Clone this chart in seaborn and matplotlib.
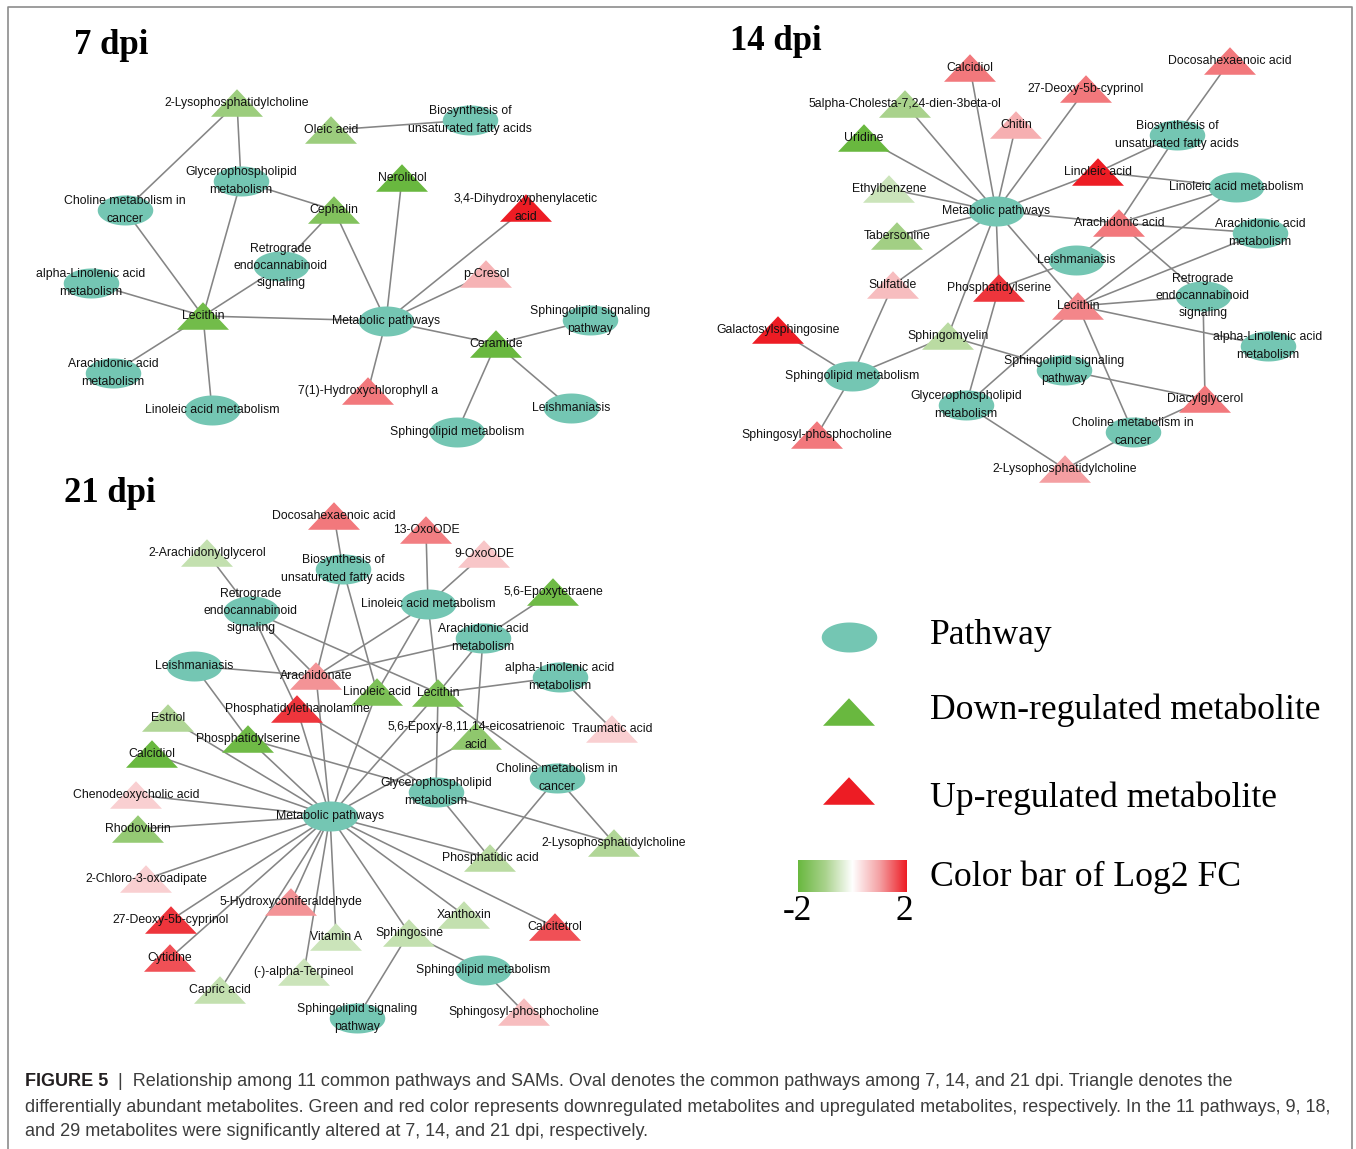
import numpy as np
import pandas as pd
import matplotlib
matplotlib.use("Agg")
import matplotlib.pyplot as plt
from matplotlib.path import Path
from matplotlib.colors import LinearSegmentedColormap
import seaborn as sns

# ---------------------------------------------------------------- data
# 7 dpi network
pathways_7 = ["Biosynthesis of unsaturated fatty acids", "Glycerophospholipid metabolism",
              "Choline metabolism in cancer", "Retrograde endocannabinoid signaling",
              "alpha-Linolenic acid metabolism", "Metabolic pathways",
              "Sphingolipid signaling pathway", "Arachidonic acid metabolism",
              "Linoleic acid metabolism", "Leishmaniasis", "Sphingolipid metabolism"]
metabolites_7 = ["2-Lysophosphatidylcholine", "Oleic acid", "Nerolidol", "Cephalin",
                 "3,4-Dihydroxyphenylacetic acid", "p-Cresol", "Lecithin", "Ceramide",
                 "7(1)-Hydroxychlorophyll a"]
log2fc_7 = [-1.2, -1.2, -2.0, -1.6, 2.0, 0.8, -1.85, -2.0, 1.3]
edges_7 = [
    ("Oleic acid", "Biosynthesis of unsaturated fatty acids"),
    ("2-Lysophosphatidylcholine", "Choline metabolism in cancer"),
    ("2-Lysophosphatidylcholine", "Glycerophospholipid metabolism"),
    ("Cephalin", "Glycerophospholipid metabolism"),
    ("Lecithin", "Glycerophospholipid metabolism"),
    ("Lecithin", "Choline metabolism in cancer"),
    ("Cephalin", "Retrograde endocannabinoid signaling"),
    ("Lecithin", "Retrograde endocannabinoid signaling"),
    ("Cephalin", "Metabolic pathways"),
    ("Lecithin", "alpha-Linolenic acid metabolism"),
    ("Lecithin", "Metabolic pathways"),
    ("Lecithin", "Arachidonic acid metabolism"),
    ("Lecithin", "Linoleic acid metabolism"),
    ("Nerolidol", "Metabolic pathways"),
    ("3,4-Dihydroxyphenylacetic acid", "Metabolic pathways"),
    ("p-Cresol", "Metabolic pathways"),
    ("Ceramide", "Metabolic pathways"),
    ("7(1)-Hydroxychlorophyll a", "Metabolic pathways"),
    ("Ceramide", "Sphingolipid signaling pathway"),
    ("Ceramide", "Leishmaniasis"),
    ("Ceramide", "Sphingolipid metabolism"),
]

# 14 dpi network
pathways_14 = list(pathways_7)
metabolites_14 = ["Calcidiol", "Docosahexaenoic acid", "27-Deoxy-5b-cyprinol",
                  "5alpha-Cholesta-7,24-dien-3beta-ol", "Chitin", "Uridine", "Linoleic acid",
                  "Ethylbenzene", "Arachidonic acid", "Tabersonine", "Sulfatide",
                  "Phosphatidylserine", "Lecithin", "Galactosylsphingosine", "Sphingomyelin",
                  "Diacylglycerol", "Sphingosyl-phosphocholine", "2-Lysophosphatidylcholine"]
log2fc_14 = [1.3, 1.3, 1.3, -1.0, 0.85, -2.0, 2.0, -0.6, 1.3, -1.1, 0.7,
             1.8, 1.2, 2.0, -0.8, 1.3, 1.3, 1.0]
edges_14 = [
    ("Docosahexaenoic acid", "Biosynthesis of unsaturated fatty acids"),
    ("Arachidonic acid", "Biosynthesis of unsaturated fatty acids"),
    ("Linoleic acid", "Biosynthesis of unsaturated fatty acids"),
    ("Linoleic acid", "Linoleic acid metabolism"),
    ("Linoleic acid", "Metabolic pathways"),
    ("Calcidiol", "Metabolic pathways"),
    ("5alpha-Cholesta-7,24-dien-3beta-ol", "Metabolic pathways"),
    ("Uridine", "Metabolic pathways"),
    ("Chitin", "Metabolic pathways"),
    ("27-Deoxy-5b-cyprinol", "Metabolic pathways"),
    ("Ethylbenzene", "Metabolic pathways"),
    ("Tabersonine", "Metabolic pathways"),
    ("Sulfatide", "Metabolic pathways"),
    ("Phosphatidylserine", "Metabolic pathways"),
    ("Sphingomyelin", "Metabolic pathways"),
    ("Lecithin", "Metabolic pathways"),
    ("Arachidonic acid", "Metabolic pathways"),
    ("Arachidonic acid", "Linoleic acid metabolism"),
    ("Arachidonic acid", "Arachidonic acid metabolism"),
    ("Arachidonic acid", "Leishmaniasis"),
    ("Arachidonic acid", "Retrograde endocannabinoid signaling"),
    ("Phosphatidylserine", "Leishmaniasis"),
    ("Lecithin", "Linoleic acid metabolism"),
    ("Lecithin", "Arachidonic acid metabolism"),
    ("Lecithin", "Retrograde endocannabinoid signaling"),
    ("Lecithin", "alpha-Linolenic acid metabolism"),
    ("Lecithin", "Glycerophospholipid metabolism"),
    ("Lecithin", "Choline metabolism in cancer"),
    ("Diacylglycerol", "Retrograde endocannabinoid signaling"),
    ("Diacylglycerol", "Sphingolipid signaling pathway"),
    ("Diacylglycerol", "Choline metabolism in cancer"),
    ("Sphingomyelin", "Sphingolipid signaling pathway"),
    ("Sphingomyelin", "Sphingolipid metabolism"),
    ("Sulfatide", "Sphingolipid metabolism"),
    ("Galactosylsphingosine", "Sphingolipid metabolism"),
    ("Sphingosyl-phosphocholine", "Sphingolipid metabolism"),
    ("Phosphatidylserine", "Glycerophospholipid metabolism"),
    ("2-Lysophosphatidylcholine", "Glycerophospholipid metabolism"),
    ("2-Lysophosphatidylcholine", "Choline metabolism in cancer"),
]

# 21 dpi network
pathways_21 = list(pathways_7)
metabolites_21 = ["Docosahexaenoic acid", "13-OxoODE", "2-Arachidonylglycerol", "9-OxoODE",
                  "5,6-Epoxytetraene", "Arachidonate", "Linoleic acid", "Lecithin",
                  "Phosphatidylethanolamine", "Estriol", "5,6-Epoxy-8,11,14-eicosatrienoic acid",
                  "Traumatic acid", "Phosphatidylserine", "Calcidiol", "Chenodeoxycholic acid",
                  "Rhodovibrin", "2-Lysophosphatidylcholine", "Phosphatidic acid",
                  "2-Chloro-3-oxoadipate", "5-Hydroxyconiferaldehyde", "Xanthoxin",
                  "27-Deoxy-5b-cyprinol", "Calcitetrol", "Sphingosine", "Vitamin A", "Cytidine",
                  "(-)-alpha-Terpineol", "Capric acid", "Sphingosyl-phosphocholine"]
log2fc_21 = [1.3, 1.25, -0.7, 0.6, -1.9, 1.1, -1.7, -1.7, 1.8, -0.9, -1.4, 0.5, -1.9, -2.0,
             0.5, -1.3, -0.9, -0.8, 0.5, 1.1, -0.7, 1.8, 1.6, -0.7, -0.6, 1.6, -0.6, -0.7, 0.7]
edges_21 = [
    ("Docosahexaenoic acid", "Biosynthesis of unsaturated fatty acids"),
    ("Linoleic acid", "Biosynthesis of unsaturated fatty acids"),
    ("Arachidonate", "Biosynthesis of unsaturated fatty acids"),
    ("13-OxoODE", "Linoleic acid metabolism"),
    ("9-OxoODE", "Linoleic acid metabolism"),
    ("2-Arachidonylglycerol", "Retrograde endocannabinoid signaling"),
    ("Arachidonate", "Retrograde endocannabinoid signaling"),
    ("Lecithin", "Retrograde endocannabinoid signaling"),
    ("Phosphatidylethanolamine", "Retrograde endocannabinoid signaling"),
    ("Arachidonate", "Linoleic acid metabolism"),
    ("Linoleic acid", "Linoleic acid metabolism"),
    ("Lecithin", "Linoleic acid metabolism"),
    ("5,6-Epoxytetraene", "Arachidonic acid metabolism"),
    ("Arachidonate", "Arachidonic acid metabolism"),
    ("Lecithin", "Arachidonic acid metabolism"),
    ("5,6-Epoxy-8,11,14-eicosatrienoic acid", "Arachidonic acid metabolism"),
    ("Arachidonate", "Leishmaniasis"),
    ("Phosphatidylserine", "Leishmaniasis"),
    ("Lecithin", "alpha-Linolenic acid metabolism"),
    ("Traumatic acid", "alpha-Linolenic acid metabolism"),
    ("Lecithin", "Glycerophospholipid metabolism"),
    ("Lecithin", "Choline metabolism in cancer"),
    ("Lecithin", "Metabolic pathways"),
    ("Arachidonate", "Metabolic pathways"),
    ("Linoleic acid", "Metabolic pathways"),
    ("Phosphatidylethanolamine", "Glycerophospholipid metabolism"),
    ("Phosphatidylethanolamine", "Metabolic pathways"),
    ("Phosphatidylserine", "Glycerophospholipid metabolism"),
    ("Phosphatidylserine", "Metabolic pathways"),
    ("Estriol", "Metabolic pathways"),
    ("Calcidiol", "Metabolic pathways"),
    ("Chenodeoxycholic acid", "Metabolic pathways"),
    ("Rhodovibrin", "Metabolic pathways"),
    ("2-Chloro-3-oxoadipate", "Metabolic pathways"),
    ("27-Deoxy-5b-cyprinol", "Metabolic pathways"),
    ("Cytidine", "Metabolic pathways"),
    ("Capric acid", "Metabolic pathways"),
    ("5-Hydroxyconiferaldehyde", "Metabolic pathways"),
    ("(-)-alpha-Terpineol", "Metabolic pathways"),
    ("Vitamin A", "Metabolic pathways"),
    ("Sphingosine", "Metabolic pathways"),
    ("Xanthoxin", "Metabolic pathways"),
    ("Calcitetrol", "Metabolic pathways"),
    ("Phosphatidic acid", "Metabolic pathways"),
    ("5,6-Epoxy-8,11,14-eicosatrienoic acid", "Metabolic pathways"),
    ("Phosphatidic acid", "Glycerophospholipid metabolism"),
    ("2-Lysophosphatidylcholine", "Glycerophospholipid metabolism"),
    ("Phosphatidic acid", "Choline metabolism in cancer"),
    ("2-Lysophosphatidylcholine", "Choline metabolism in cancer"),
    ("Sphingosine", "Sphingolipid metabolism"),
    ("Sphingosine", "Sphingolipid signaling pathway"),
    ("Sphingosyl-phosphocholine", "Sphingolipid metabolism"),
]

legend_labels = ["Pathway", "Down-regulated metabolite", "Up-regulated metabolite",
                 "Color bar of Log2 FC"]
fc_limits = [-2, 2]

caption_head = "FIGURE 5"
caption_lines = [
    "|  Relationship among 11 common pathways and SAMs. Oval denotes the common pathways among 7, 14, and 21 dpi. Triangle denotes the",
    "differentially abundant metabolites. Green and red color represents downregulated metabolites and upregulated metabolites, respectively. In the 11 pathways, 9, 18,",
    "and 29 metabolites were significantly altered at 7, 14, and 21 dpi, respectively.",
]

# ---------------------------------------------------------------- layout (pixel space)
WRAP = {
    "Biosynthesis of unsaturated fatty acids": "Biosynthesis of\nunsaturated fatty acids",
    "Glycerophospholipid metabolism": "Glycerophospholipid\nmetabolism",
    "Choline metabolism in cancer": "Choline metabolism in\ncancer",
    "Retrograde endocannabinoid signaling": "Retrograde\nendocannabinoid\nsignaling",
    "alpha-Linolenic acid metabolism": "alpha-Linolenic acid\nmetabolism",
    "Sphingolipid signaling pathway": "Sphingolipid signaling\npathway",
    "Arachidonic acid metabolism": "Arachidonic acid\nmetabolism",
    "3,4-Dihydroxyphenylacetic acid": "3,4-Dihydroxyphenylacetic\nacid",
    "5,6-Epoxy-8,11,14-eicosatrienoic acid": "5,6-Epoxy-8,11,14-eicosatrienoic\nacid",
}

layout_7 = {
    "2-Lysophosphatidylcholine": (237, 103), "Oleic acid": (331, 130),
    "Biosynthesis of unsaturated fatty acids": (470, 120),
    "Glycerophospholipid metabolism": (241, 181), "Nerolidol": (402, 178),
    "Choline metabolism in cancer": (125, 210), "Cephalin": (334, 210),
    "3,4-Dihydroxyphenylacetic acid": (526, 208),
    "Retrograde endocannabinoid signaling": (281, 266),
    "alpha-Linolenic acid metabolism": (91, 283), "p-Cresol": (486, 274),
    "Lecithin": (203, 316), "Metabolic pathways": (386, 321),
    "Sphingolipid signaling pathway": (590, 320), "Ceramide": (496, 344),
    "Arachidonic acid metabolism": (113, 373), "7(1)-Hydroxychlorophyll a": (368, 391),
    "Linoleic acid metabolism": (212, 410), "Leishmaniasis": (571, 408),
    "Sphingolipid metabolism": (457, 432),
}
layout_14 = {
    "Calcidiol": (970, 68), "Docosahexaenoic acid": (1230, 61),
    "27-Deoxy-5b-cyprinol": (1086, 89), "5alpha-Cholesta-7,24-dien-3beta-ol": (905, 104),
    "Chitin": (1016, 125), "Uridine": (864, 138),
    "Biosynthesis of unsaturated fatty acids": (1177, 135), "Linoleic acid": (1098, 172),
    "Linoleic acid metabolism": (1236, 187), "Ethylbenzene": (889, 189),
    "Metabolic pathways": (996, 211), "Arachidonic acid": (1119, 223),
    "Arachidonic acid metabolism": (1260, 233), "Tabersonine": (897, 236),
    "Leishmaniasis": (1076, 260), "Sulfatide": (893, 285), "Phosphatidylserine": (999, 288),
    "Retrograde endocannabinoid signaling": (1203, 296), "Lecithin": (1078, 306),
    "Galactosylsphingosine": (778, 330), "Sphingomyelin": (948, 336),
    "alpha-Linolenic acid metabolism": (1268, 346),
    "Sphingolipid signaling pathway": (1064, 370), "Sphingolipid metabolism": (852, 376),
    "Glycerophospholipid metabolism": (966, 405), "Diacylglycerol": (1205, 399),
    "Choline metabolism in cancer": (1133, 432), "Sphingosyl-phosphocholine": (817, 435),
    "2-Lysophosphatidylcholine": (1065, 469),
}
layout_21 = {
    "Docosahexaenoic acid": (334, 516), "13-OxoODE": (426, 530),
    "2-Arachidonylglycerol": (207, 553), "9-OxoODE": (484, 554),
    "Biosynthesis of unsaturated fatty acids": (343, 569), "5,6-Epoxytetraene": (553, 592),
    "Retrograde endocannabinoid signaling": (251, 611), "Linoleic acid metabolism": (428, 604),
    "Arachidonic acid metabolism": (483, 638), "Leishmaniasis": (194, 666),
    "Arachidonate": (316, 676), "alpha-Linolenic acid metabolism": (560, 677),
    "Linoleic acid": (377, 692), "Lecithin": (438, 693),
    "Phosphatidylethanolamine": (297, 709), "Estriol": (168, 718),
    "5,6-Epoxy-8,11,14-eicosatrienoic acid": (476, 736), "Traumatic acid": (612, 729),
    "Phosphatidylserine": (248, 739), "Calcidiol": (152, 754),
    "Choline metabolism in cancer": (557, 778), "Glycerophospholipid metabolism": (436, 792),
    "Chenodeoxycholic acid": (136, 795), "Metabolic pathways": (330, 816),
    "Rhodovibrin": (138, 829), "2-Lysophosphatidylcholine": (614, 843),
    "Phosphatidic acid": (490, 858), "2-Chloro-3-oxoadipate": (146, 879),
    "5-Hydroxyconiferaldehyde": (291, 902), "Xanthoxin": (464, 915),
    "27-Deoxy-5b-cyprinol": (171, 920), "Calcitetrol": (555, 927),
    "Sphingosine": (409, 933), "Vitamin A": (336, 937), "Cytidine": (170, 958),
    "(-)-alpha-Terpineol": (304, 972), "Sphingolipid metabolism": (483, 970),
    "Capric acid": (220, 990), "Sphingolipid signaling pathway": (357, 1018),
    "Sphingosyl-phosphocholine": (524, 1012),
}

# ---------------------------------------------------------------- styling
W, H = 1356, 1149
TEAL = "#74c6b3"
EDGE = "#858585"
fc_cmap = LinearSegmentedColormap.from_list(
    "fc", ["#69b83f", "#a9d28c", "#ffffff", "#f4a1a4", "#ed1c24"])

theta = np.linspace(0, 2 * np.pi, 73)
ellipse_marker = Path(np.column_stack([np.cos(theta), 0.54 * np.sin(theta)]), closed=True)
triangle_marker = Path([(-1, -0.53), (1, -0.53), (0, 0.53), (-1, -0.53)], closed=True)
ELLIPSE_S = 1600
TRIANGLE_S = 1400

sns.set_theme(style="white")
plt.rcParams["font.family"] = ["Liberation Sans", "DejaVu Sans"]

fig = plt.figure(figsize=(W / 100, H / 100), dpi=100)
ax = fig.add_axes([0, 0, 1, 1])


def draw_network(pathways, metabolites, fcs, edges, layout):
    # edges
    rows = []
    for i, (a, b) in enumerate(edges):
        for n in (a, b):
            rows.append({"edge": i, "x": layout[n][0], "y": layout[n][1]})
    edf = pd.DataFrame(rows)
    sns.lineplot(data=edf, x="x", y="y", units="edge", estimator=None, sort=False,
                 color=EDGE, linewidth=1.15, zorder=1, ax=ax, legend=False)
    # pathway ovals
    pdf = pd.DataFrame({"name": pathways,
                        "x": [layout[p][0] for p in pathways],
                        "y": [layout[p][1] for p in pathways]})
    sns.scatterplot(data=pdf, x="x", y="y", color=TEAL, marker=ellipse_marker,
                    s=ELLIPSE_S, linewidth=0, zorder=2, ax=ax, legend=False)
    # metabolite triangles coloured by log2 fold change
    mdf = pd.DataFrame({"name": metabolites, "fc": fcs,
                        "x": [layout[m][0] for m in metabolites],
                        "y": [layout[m][1] for m in metabolites]})
    sns.scatterplot(data=mdf, x="x", y="y", hue="fc", palette=fc_cmap,
                    hue_norm=tuple(fc_limits), marker=triangle_marker, s=TRIANGLE_S,
                    linewidth=0, zorder=2, ax=ax, legend=False)
    # labels
    for n in list(pathways) + list(metabolites):
        x, y = layout[n]
        ax.text(x, y, WRAP.get(n, n), ha="center", va="center", fontsize=8.8,
                color="#111111", linespacing=1.6, zorder=3)


draw_network(pathways_7, metabolites_7, log2fc_7, edges_7, layout_7)
draw_network(pathways_14, metabolites_14, log2fc_14, edges_14, layout_14)
draw_network(pathways_21, metabolites_21, log2fc_21, edges_21, layout_21)

# panel titles
serif = ["Liberation Serif", "DejaVu Serif"]
for txt, (x, y) in [("7 dpi", (111, 45)), ("14 dpi", (776, 42)), ("21 dpi", (110, 494))]:
    ax.text(x, y, txt, ha="center", va="center", fontsize=25, fontweight="bold",
            family=serif, color="black")

# legend
leg = pd.DataFrame({"x": [849, 849, 849], "y": [637, 712, 791],
                    "fc": [np.nan, fc_limits[0], fc_limits[1]]})
sns.scatterplot(data=leg.iloc[:1], x="x", y="y", color=TEAL, marker=ellipse_marker,
                s=ELLIPSE_S, linewidth=0, ax=ax, legend=False, zorder=2)
sns.scatterplot(data=leg.iloc[1:], x="x", y="y", hue="fc", palette=fc_cmap,
                hue_norm=tuple(fc_limits), marker=triangle_marker, s=TRIANGLE_S,
                linewidth=0, ax=ax, legend=False, zorder=2)
gradient = np.linspace(fc_limits[0], fc_limits[1], 256).reshape(1, -1)
ax.imshow(gradient, cmap=fc_cmap, vmin=fc_limits[0], vmax=fc_limits[1],
          extent=(798, 907, 892, 860), aspect="auto", zorder=2)
for txt, y in zip(legend_labels, [635, 710, 798, 877]):
    ax.text(930, y, txt, ha="left", va="center", fontsize=25.7, family=serif, color="black")
ax.text(797, 912, str(fc_limits[0]), ha="center", va="center", fontsize=25.5,
        family=serif, color="black")
ax.text(904, 912, str(fc_limits[1]), ha="center", va="center", fontsize=25.5,
        family=serif, color="black")

# frame
ax.plot([8, 8, 1352, 1352], [H + 5, 7, 7, H + 5], color="#8c8c8c", lw=1.2,
        zorder=0, clip_on=False)

# caption
renderer = fig.canvas.get_renderer()
probe = ax.text(0, 0, caption_lines[1], fontsize=10)
cap_size = 10 * 1310 / probe.get_window_extent(renderer).width
probe.remove()
head = ax.text(25, 1081, caption_head + "  ", ha="left", va="center", fontsize=cap_size,
               fontweight="bold", color="#231f20")
hx = 25 + head.get_window_extent(renderer).width
ax.text(hx, 1081, caption_lines[0], ha="left", va="center", fontsize=cap_size,
        color="#3d3d3d")
ax.text(25, 1107, caption_lines[1], ha="left", va="center", fontsize=cap_size, color="#3d3d3d")
ax.text(25, 1132, caption_lines[2], ha="left", va="center", fontsize=cap_size, color="#3d3d3d")

ax.set_xlim(0, W)
ax.set_ylim(H, 0)
ax.axis("off")
fig.savefig("out.png", dpi=100, facecolor="white")
